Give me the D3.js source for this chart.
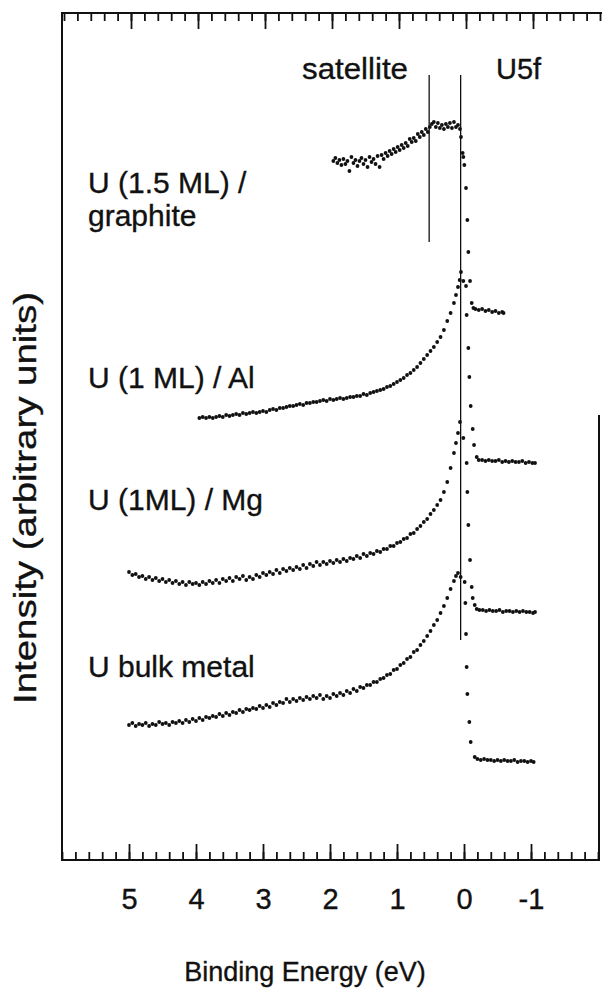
<!DOCTYPE html>
<html>
<head>
<meta charset="utf-8">
<script src="https://cdn.jsdelivr.net/npm/d3@7/dist/d3.min.js"></script>
<style>
  body { margin: 0; background: #ffffff; }
  text { font-family: "Liberation Sans", Arial, Helvetica, sans-serif; fill: #111; stroke: #111; stroke-width: 0.35; }
</style>
</head>
<body>
<script>
// binding energy (eV), intensity (arbitrary units)
const graphite = [
  [1.95,699],[1.92,702],[1.89,697],[1.86,700],[1.83,695],[1.80,701],[1.77,696],[1.74,699],[1.71,689],[1.68,703],
  [1.65,697],[1.62,700],[1.59,694],[1.56,699],[1.53,702],[1.50,696],[1.47,700],[1.44,693],[1.41,703],[1.38,698],
  [1.35,701],[1.32,696],[1.29,704],[1.26,693],[1.23,705],[1.20,701],[1.17,707],[1.14,704],[1.11,709],[1.08,706],
  [1.05,711],[1.02,708],[0.99,713],[0.96,710],[0.93,715],[0.90,712],[0.87,717],[0.84,714],[0.81,721],[0.78,718],
  [0.75,722],[0.72,719],[0.69,726],[0.66,723],[0.63,728],[0.60,725],[0.57,731],[0.54,728],[0.51,733],[0.48,736],
  [0.45,738],[0.42,733],[0.39,737],[0.36,732],[0.33,735],[0.30,731],[0.27,736],[0.24,733],[0.21,737],[0.18,732],
  [0.15,738],[0.12,733],[0.09,735],[0.06,731],
  [0.045,723],[0.02,707],[0.01,703],[-0.005,695],[-0.03,672],[-0.05,640],[-0.065,608],[-0.09,579],[-0.115,557],[-0.14,552],
  [-0.17,551],[-0.22,550],[-0.27,551],[-0.32,549],[-0.37,550],[-0.42,548],[-0.47,549],[-0.52,547],[-0.57,548],[-0.59,547]
];

const aluminium = [
  [3.95,442],[3.90,443],[3.85,442],[3.80,443],[3.75,442],[3.70,443],[3.65,444],[3.60,443],[3.55,445],[3.50,444],
  [3.45,445],[3.40,446],[3.35,445],[3.30,447],[3.25,446],[3.20,447],[3.15,448],[3.10,447],[3.05,448],[3.00,449],
  [2.95,448],[2.90,450],[2.85,451],[2.80,450],[2.75,452],[2.70,452],[2.65,453],[2.60,454],[2.55,454],[2.50,455],
  [2.45,456],[2.40,455],[2.35,457],[2.30,457],[2.25,458],[2.20,458],[2.15,459],[2.10,460],[2.05,459],[2.00,461],
  [1.95,460],[1.90,461],[1.85,462],[1.80,461],[1.75,462],[1.70,463],[1.65,463],[1.60,464],[1.55,464],[1.50,466],
  [1.45,465],[1.40,467],[1.35,468],[1.30,469],[1.25,470],[1.20,471],[1.15,473],[1.10,474],[1.05,476],[1.00,478],
  [0.95,480],[0.90,482],[0.85,485],[0.80,487],[0.75,490],[0.70,493],[0.65,497],[0.60,501],[0.55,505],[0.50,509],
  [0.45,513],[0.40,518],[0.35,523],[0.30,530],[0.25,539],[0.20,547],[0.15,557],[0.12,565],[0.09,573],[0.065,580],
  [0.045,588],[0.01,579],[-0.03,574],
  [-0.04,545],[-0.065,512],[-0.08,483],[-0.10,454],[-0.13,431],[-0.15,415],
  [-0.19,403],[-0.22,400],[-0.27,400],[-0.32,399],[-0.37,400],[-0.42,399],[-0.47,399],[-0.52,400],[-0.57,398],[-0.62,399],
  [-0.67,398],[-0.72,399],[-0.77,398],[-0.82,398],[-0.87,399],[-0.92,397],[-0.97,398],[-1.02,397],[-1.06,397]
];

const magnesium = [
  [5.00,288],[4.95,285],[4.90,286],[4.85,283],[4.80,284],[4.75,281],[4.70,283],[4.65,280],[4.60,282],[4.55,279],
  [4.50,281],[4.45,278],[4.40,280],[4.35,277],[4.30,279],[4.25,276],[4.20,278],[4.15,275],[4.10,278],[4.05,276],
  [4.00,277],[3.95,275],[3.90,278],[3.85,276],[3.80,279],[3.75,277],[3.70,280],[3.65,277],[3.60,281],[3.55,279],
  [3.50,282],[3.45,279],[3.40,283],[3.35,281],[3.30,284],[3.25,280],[3.20,283],[3.15,281],[3.10,285],[3.05,283],
  [3.00,287],[2.95,285],[2.90,288],[2.85,286],[2.80,290],[2.75,287],[2.70,291],[2.65,289],[2.60,292],[2.55,290],
  [2.50,293],[2.45,291],[2.40,295],[2.35,292],[2.30,296],[2.25,294],[2.20,298],[2.15,295],[2.10,298],[2.05,296],
  [2.00,299],[1.95,297],[1.90,300],[1.85,298],[1.80,301],[1.75,299],[1.70,302],[1.65,301],[1.60,304],[1.55,302],
  [1.50,306],[1.45,304],[1.40,307],[1.35,306],[1.30,309],[1.25,308],[1.20,311],[1.15,311],[1.10,314],[1.05,314],
  [1.00,317],[0.95,318],[0.90,321],[0.85,322],[0.80,326],[0.75,327],[0.70,331],[0.65,334],[0.60,338],[0.55,341],
  [0.50,346],[0.45,350],[0.40,355],[0.35,360],[0.30,368],[0.25,378],[0.20,392],[0.15,407],[0.12,417],[0.09,427],
  [0.06,438],[0.01,422],
  [-0.04,397],[-0.05,368],[-0.065,335],[-0.09,300],[-0.115,273],[-0.13,262],[-0.16,255],
  [-0.19,251],[-0.23,250],[-0.28,250],[-0.33,249],[-0.38,250],[-0.43,249],[-0.48,249],[-0.53,250],[-0.58,248],[-0.63,249],
  [-0.68,249],[-0.73,248],[-0.78,249],[-0.83,248],[-0.88,249],[-0.93,248],[-0.98,248],[-1.03,247],[-1.06,248]
];

const bulk = [
  [5.00,135],[4.95,137],[4.90,134],[4.85,136],[4.80,135],[4.75,137],[4.70,134],[4.65,136],[4.60,135],[4.55,138],
  [4.50,136],[4.45,137],[4.40,135],[4.35,138],[4.30,137],[4.25,139],[4.20,137],[4.15,140],[4.10,138],[4.05,141],
  [4.00,139],[3.95,142],[3.90,140],[3.85,143],[3.80,142],[3.75,144],[3.70,143],[3.65,146],[3.60,144],[3.55,147],
  [3.50,145],[3.45,148],[3.40,147],[3.35,150],[3.30,148],[3.25,151],[3.20,150],[3.15,152],[3.10,151],[3.05,154],
  [3.00,152],[2.95,155],[2.90,153],[2.85,157],[2.80,155],[2.75,158],[2.70,157],[2.65,161],[2.60,158],[2.55,161],
  [2.50,159],[2.45,162],[2.40,160],[2.35,163],[2.30,161],[2.25,164],[2.20,162],[2.15,165],[2.10,161],[2.05,164],
  [2.00,162],[1.95,166],[1.90,164],[1.85,167],[1.80,165],[1.75,169],[1.70,167],[1.65,171],[1.60,169],[1.55,173],
  [1.50,172],[1.45,175],[1.40,175],[1.35,178],[1.30,178],[1.25,181],[1.20,182],[1.15,185],[1.10,186],[1.05,190],
  [1.00,191],[0.95,195],[0.90,197],[0.85,201],[0.80,203],[0.75,208],[0.70,210],[0.65,215],[0.60,219],[0.55,224],
  [0.50,229],[0.45,235],[0.40,240],[0.35,247],[0.30,254],[0.25,262],[0.20,271],[0.15,279],[0.12,284],[0.09,287],
  [0.05,283],[-0.01,278],[-0.02,257],[-0.03,226],[-0.04,193],[-0.05,166],[-0.08,138],[-0.10,118],[-0.16,103],
  [-0.20,101],[-0.25,100],[-0.30,101],[-0.35,100],[-0.40,100],[-0.45,99],[-0.50,100],[-0.55,99],[-0.60,100],[-0.65,99],
  [-0.70,99],[-0.75,100],[-0.80,98],[-0.85,99],[-0.90,99],[-0.95,98],[-1.00,99],[-1.04,98]
];

const seriesList = [graphite, aluminium, magnesium, bulk];
const seriesLabels = [["U (1.5 ML) /", "graphite"], ["U (1 ML) / Al"], ["U (1ML) / Mg"], ["U bulk metal"]];

const majorTicks = [5, 4, 3, 2, 1, 0, -1];

// marker lines: energy, top and bottom intensity
const markerEnergy = [0.52, 0.05];
const markerTop = [785, 785];
const markerBottom = [618, 220];
const markerNames = ["satellite", "U5f"];

const xTitle = "Binding Energy (eV)";
const yTitle = "Intensity (arbitrary units)";

function init() {
  const svg = d3.select("body").append("svg")
    .attr("width", 602)
    .attr("height", 990);

  const x = d3.scaleLinear().domain([6, -2]).range([62, 598]);
  const y = d3.scaleLinear().domain([0, 847]).range([860, 13]);

  // frame
  svg.append("path")
    .attr("d", "M 602 13 H 62 V 860 H 599 V 415")
    .attr("stroke", "#111")
    .attr("stroke-width", 2)
    .attr("fill", "none");

  // ticks point inward on both edges
  const minorBottom = d3.axisBottom(x).tickValues(x.ticks(40)).tickSize(-8).tickFormat("");
  const majorBottom = d3.axisBottom(x).tickValues(majorTicks).tickSize(-16).tickPadding(28)
    .tickFormat(d => String(d));
  const minorTop = d3.axisTop(x).tickValues(x.ticks(40)).tickSize(-8).tickFormat("");
  const majorTop = d3.axisTop(x).tickValues(majorTicks).tickSize(-16).tickFormat("");

  [minorBottom, majorBottom].forEach(ax => {
    svg.append("g").attr("transform", "translate(0,860)").call(ax)
      .call(g => g.select(".domain").remove());
  });
  [minorTop, majorTop].forEach(ax => {
    svg.append("g").attr("transform", "translate(2,13)").call(ax)
      .call(g => g.select(".domain").remove());
  });
  svg.selectAll(".tick line").attr("stroke", "#111").attr("stroke-width", 1.8);
  svg.selectAll(".tick text")
    .style("font-family", "'Liberation Sans', Arial, sans-serif")
    .attr("font-size", 29)
    .attr("fill", "#111");

  // marker lines
  markerEnergy.forEach((e, i) => {
    svg.append("line")
      .attr("x1", x(e)).attr("x2", x(e))
      .attr("y1", y(markerTop[i])).attr("y2", y(markerBottom[i]))
      .attr("stroke", "#111")
      .attr("stroke-width", 1.3);
  });

  svg.append("text").attr("x", 302).attr("y", 79).attr("font-size", 30)
    .attr("textLength", 106).attr("lengthAdjust", "spacingAndGlyphs").text(markerNames[0]);
  svg.append("text").attr("x", 496).attr("y", 79).attr("font-size", 29).text(markerNames[1]);

  // spectra
  seriesList.forEach(s => {
    svg.append("g").selectAll("circle")
      .data(s)
      .join("circle")
      .attr("cx", d => x(d[0]))
      .attr("cy", d => y(d[1]))
      .attr("r", 1.9)
      .attr("fill", "#111");
  });

  // labels
  const labelY = [193, 388, 510, 677];
  seriesLabels.forEach((lines, i) => {
    lines.forEach((t, j) => {
      svg.append("text")
        .attr("x", 88)
        .attr("y", labelY[i] + j * 33)
        .attr("font-size", 30)
        .text(t);
    });
  });

  svg.append("text")
    .attr("x", 305).attr("y", 981)
    .attr("text-anchor", "middle")
    .attr("font-size", 27)
    .text(xTitle);

  svg.append("text")
    .attr("transform", "translate(36,498) rotate(-90)")
    .attr("text-anchor", "middle")
    .attr("font-size", 31)
    .attr("textLength", 412)
    .attr("lengthAdjust", "spacingAndGlyphs")
    .text(yTitle);
}

init();
</script>
</body>
</html>
